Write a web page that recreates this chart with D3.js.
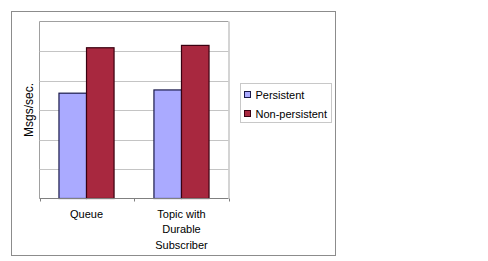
<!DOCTYPE html>
<html lang="en">
<head>
    <meta charset="UTF-8">
    <title>Msgs/sec. - Persistent vs Non-persistent</title>
    <style>
        body { margin: 0; background: #fff; }
        svg { display: block; }
        text { font-family: "Liberation Sans", Arial, sans-serif; font-size: 11px; fill: #000; }
    </style>
</head>
<body>
    <script src="https://cdn.jsdelivr.net/npm/d3@7"></script>
    <script type="text/javascript">
        // data (no y tick labels, so units are gridline steps)
        var categories = ["Queue", "Topic with Durable Subscriber"];
        var categoryLines = [["Queue"], ["Topic with", "Durable", "Subscriber"]];
        var seriesNames = ["Persistent", "Non-persistent"];
        var persistent = [3.57, 3.68];
        var nonPersistent = [5.11, 5.19];
        var yTicks = [0, 1, 2, 3, 4, 5, 6];

        var fills = ["#aaaaff", "#a8283f"];
        var strokes = ["#1a1a4a", "#3a0010"];

        var w = 488, h = 261;
        var plot = { left: 39.5, top: 21.5, right: 228.5, bottom: 198.5 };

        var svg = d3.select("body").append("svg").attr("width", w).attr("height", h);

        // outer chart frame
        svg.append("rect")
            .attr("x", 11.5).attr("y", 11.5)
            .attr("width", 324).attr("height", 244)
            .attr("fill", "#fff")
            .attr("stroke", "#8c8c8c");

        var x0 = d3.scaleBand()
            .domain(categories)
            .range([plot.left, plot.right])
            .paddingInner(0.42)
            .paddingOuter(0.205);

        var x1 = d3.scaleBand()
            .domain(seriesNames)
            .range([0, x0.bandwidth()]);

        var y = d3.scaleLinear()
            .domain([0, 6])
            .range([plot.bottom, plot.top]);

        // plot area border
        svg.append("line")
            .attr("x1", plot.left).attr("x2", plot.right)
            .attr("y1", plot.top).attr("y2", plot.top)
            .attr("stroke", "#a0a0a0");
        svg.append("line")
            .attr("x1", plot.left).attr("x2", plot.left)
            .attr("y1", plot.top).attr("y2", plot.bottom)
            .attr("stroke", "#a0a0a0");
        svg.append("line")
            .attr("x1", plot.right + 0.5).attr("x2", plot.right + 0.5)
            .attr("y1", plot.top).attr("y2", plot.bottom)
            .attr("stroke", "#d4d4d4")
            .attr("stroke-width", 2);

        // gridlines
        svg.append("g")
            .selectAll("line")
            .data(yTicks.slice(1, -1))
            .enter()
            .append("line")
            .attr("x1", plot.left).attr("x2", plot.right)
            .attr("y1", function(d){ return Math.round(y(d)) + 0.5; })
            .attr("y2", function(d){ return Math.round(y(d)) + 0.5; })
            .attr("stroke", "#c4c4c4");

        // bars
        var rows = categories.map(function(c, i){
            return [
                { cat: c, s: seriesNames[0], v: persistent[i], k: 0 },
                { cat: c, s: seriesNames[1], v: nonPersistent[i], k: 1 }
            ];
        });

        svg.append("g")
            .selectAll("g")
            .data(rows)
            .enter()
            .append("g")
            .attr("transform", function(d){ return "translate(" + x0(d[0].cat) + ",0)"; })
            .selectAll("rect")
            .data(function(d){ return d; })
            .enter()
            .append("rect")
            .attr("x", function(d){ return x1(d.s); })
            .attr("y", function(d){ return y(d.v); })
            .attr("width", x1.bandwidth())
            .attr("height", function(d){ return y(0) - y(d.v); })
            .attr("fill", function(d){ return fills[d.k]; })
            .attr("stroke", function(d){ return strokes[d.k]; })
            .attr("stroke-width", 1.2);

        // category axis
        svg.append("line")
            .attr("x1", plot.left).attr("x2", plot.right)
            .attr("y1", plot.bottom).attr("y2", plot.bottom)
            .attr("stroke", "#808080");

        var step = (plot.right - plot.left) / categories.length;
        svg.append("g")
            .selectAll("line")
            .data(d3.range(categories.length + 1))
            .enter()
            .append("line")
            .attr("x1", function(d){ return Math.round(plot.left + d * step) + 0.5; })
            .attr("x2", function(d){ return Math.round(plot.left + d * step) + 0.5; })
            .attr("y1", plot.bottom).attr("y2", plot.bottom + 3)
            .attr("stroke", "#808080");

        svg.append("g")
            .selectAll("text")
            .data(categories)
            .enter()
            .append("text")
            .attr("text-anchor", "middle")
            .attr("x", function(d){ return x0(d) + x0.bandwidth() / 2; })
            .attr("y", 218)
            .each(function(d, i){
                var t = d3.select(this);
                categoryLines[i].forEach(function(line, j){
                    t.append("tspan")
                        .attr("x", x0(d) + x0.bandwidth() / 2)
                        .attr("dy", j === 0 ? 0 : 15.3)
                        .text(line);
                });
            });

        // y axis title
        svg.append("text")
            .attr("transform", "translate(33," + ((plot.top + plot.bottom) / 2) + ") rotate(-90)")
            .attr("text-anchor", "middle")
            .style("font-size", "12px")
            .text("Msgs/sec.");

        // legend
        var legend = svg.append("g").attr("transform", "translate(240.5,83.5)");
        legend.append("rect")
            .attr("width", 91).attr("height", 39)
            .attr("fill", "#fff")
            .attr("stroke", "#c8c8c8");

        var items = legend.selectAll("g.item")
            .data(seriesNames)
            .enter()
            .append("g")
            .attr("class", "item")
            .attr("transform", function(d, i){ return "translate(4," + (8 + i * 19) + ")"; });

        items.append("rect")
            .attr("width", 6).attr("height", 6)
            .attr("fill", function(d, i){ return fills[i]; })
            .attr("stroke", function(d, i){ return strokes[i]; });

        items.append("text")
            .attr("x", 11).attr("y", 7)
            .text(function(d){ return d; });
    </script>
</body>
</html>
